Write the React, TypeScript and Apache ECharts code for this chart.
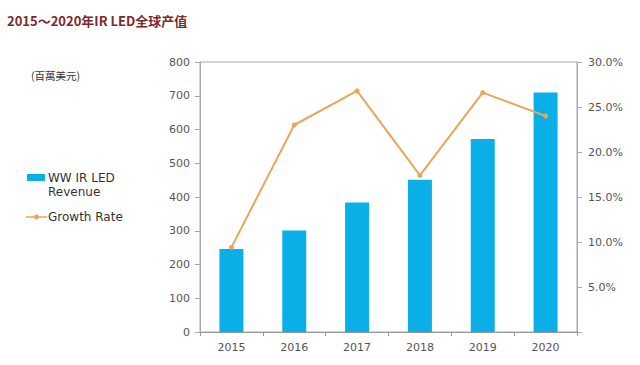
import React, { useEffect, useRef } from "react";
import * as echarts from "echarts";

const years = ["2015", "2016", "2017", "2018", "2019", "2020"];
const revenue = [246, 301, 384, 451, 572, 710];
const growthRate = [9.4, 23.0, 26.8, 17.4, 26.6, 24.0];

const barColor = "#0bafe8";
const lineColor = "#e9a659";

export default function App() {
  const ref = useRef<HTMLDivElement>(null);
  useEffect(() => {
    const chart = echarts.init(ref.current!, null, { renderer: "svg" });
    const axisLabel = { color: "#555", fontFamily: "DejaVu Sans", fontSize: 11 };
    const legendText = { fill: "#333", fontSize: 12, fontFamily: "DejaVu Sans", verticalAlign: "middle" };
    chart.setOption({
      animation: false,
      backgroundColor: "#fff",
      title: {
        text: "2015～2020年IR LED全球产值",
        left: 2,
        top: 9,
        textStyle: { color: "#7a2a2a", fontSize: 13, fontWeight: "bold", fontFamily: "Noto Sans CJK SC" },
      },
      graphic: [
        {
          type: "text",
          x: 31,
          y: 75,
          style: { text: "(百萬美元)", fill: "#333", fontSize: 10.5, fontFamily: "Noto Sans CJK TC", verticalAlign: "middle" },
        },
        { type: "rect", shape: { x: 27, y: 174, width: 18, height: 7 }, style: { fill: barColor } },
        { type: "text", x: 48, y: 178, style: { ...legendText, text: "WW IR LED" } },
        { type: "text", x: 48, y: 192, style: { ...legendText, text: "Revenue" } },
        { type: "line", shape: { x1: 26, y1: 217, x2: 47, y2: 217 }, style: { stroke: lineColor, lineWidth: 1.5 } },
        { type: "circle", shape: { cx: 36.5, cy: 217, r: 2.5 }, style: { fill: lineColor } },
        { type: "text", x: 48, y: 217, style: { ...legendText, text: "Growth Rate" } },
      ],
      grid: {
        left: 200,
        right: 63,
        top: 62,
        bottom: 33,
        show: true,
        borderColor: "#aaa",
        borderWidth: 1,
      },
      xAxis: {
        type: "category",
        data: years,
        axisLine: { lineStyle: { color: "#999" } },
        axisTick: { show: true, length: 4, lineStyle: { color: "#999" } },
        axisLabel: { ...axisLabel, margin: 10 },
      },
      yAxis: [
        {
          type: "value",
          min: 0,
          max: 800,
          interval: 100,
          splitLine: { show: false },
          axisLine: { show: true, lineStyle: { color: "#aaa" } },
          axisTick: { show: true, length: 5, lineStyle: { color: "#aaa" } },
          axisLabel: { ...axisLabel, margin: 10 },
        },
        {
          type: "value",
          min: 0,
          max: 30,
          interval: 5,
          position: "right",
          splitLine: { show: false },
          axisLine: { show: true, lineStyle: { color: "#aaa" } },
          axisTick: { show: true, length: 5, lineStyle: { color: "#aaa" } },
          axisLabel: {
            ...axisLabel,
            margin: 11,
            formatter: (v: number) => (v === 0 ? "" : v.toFixed(1) + "%"),
          },
        },
      ],
      series: [
        {
          name: "WW IR LED Revenue",
          type: "bar",
          data: revenue,
          barWidth: 24,
          itemStyle: { color: barColor },
        },
        {
          name: "Growth Rate",
          type: "line",
          yAxisIndex: 1,
          data: growthRate,
          symbol: "circle",
          symbolSize: 5,
          lineStyle: { color: lineColor, width: 2 },
          itemStyle: { color: lineColor },
        },
      ],
    });
    return () => chart.dispose();
  }, []);
  return <div ref={ref} style={{ width: 640, height: 365, position: "absolute", left: 0, top: 0 }} />;
}
